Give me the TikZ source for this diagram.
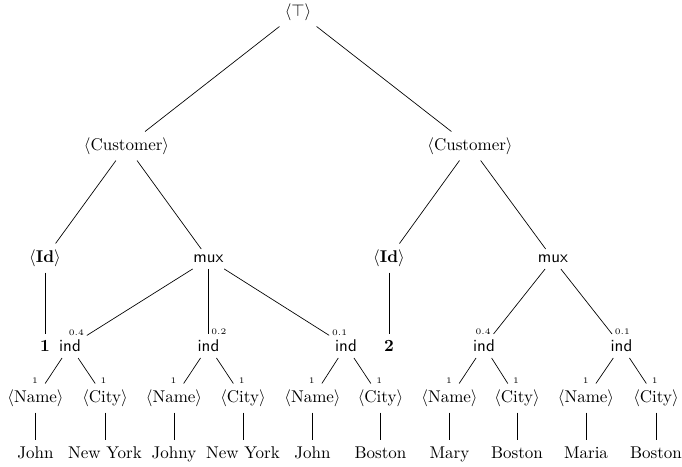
\documentclass[tikz,border=0pt]{standalone}
\begin{document}
\begin{tikzpicture}[x=0.588pt,y=-0.588pt,
  every node/.style={inner sep=3.33pt},
  sfn/.style={font=\sffamily},
  val/.style={anchor=base},
  lblL/.style={font=\tiny, anchor=base east, inner sep=1.5pt},
  lblR/.style={font=\tiny, anchor=base west, inner sep=1.5pt},
  clblL/.style={font=\tiny, anchor=base east, inner sep=4pt},
  clblR/.style={font=\tiny, anchor=base west, inner sep=3pt}]
\useasboundingbox (0,0) rectangle (682,467);
% level 1-3
\node (top) at (298,12) {$\langle\top\rangle$};
\node (c1) at (126.5,146) {$\langle$Customer$\rangle$};
\node (c2) at (470,146) {$\langle$Customer$\rangle$};
\node (id1) at (45,258) {$\langle$\textbf{Id}$\rangle$};
\node[sfn] (m1) at (208.5,259) {mux};
\node (id2) at (389,258) {$\langle$\textbf{Id}$\rangle$};
\node[sfn] (m2) at (553,259) {mux};
% level 4
\node (v1) at (45,346) {\textbf{1}};
\node[sfn] (i1) at (70,346) {ind};
\node[sfn] (i2) at (208.5,346) {ind};
\node[sfn] (i3) at (346,346) {ind};
\node (v2) at (389,346) {\textbf{2}};
\node[sfn] (i4) at (484,346) {ind};
\node[sfn] (i5) at (621.5,346) {ind};
% level 5
\node (n1) at (35.5,398) {$\langle$Name$\rangle$};
\node (t1) at (105,398) {$\langle$City$\rangle$};
\node (n2) at (174,398) {$\langle$Name$\rangle$};
\node (t2) at (243,398) {$\langle$City$\rangle$};
\node (n3) at (312.5,398) {$\langle$Name$\rangle$};
\node (t3) at (380.5,398) {$\langle$City$\rangle$};
\node (n4) at (449.5,398) {$\langle$Name$\rangle$};
\node (t4) at (517,398) {$\langle$City$\rangle$};
\node (n5) at (586,398) {$\langle$Name$\rangle$};
\node (t5) at (656,398) {$\langle$City$\rangle$};
% level 6
\node[val] (w1) at (35.5,458) {John};
\node[val] (w2) at (105,458) {New York};
\node[val] (w3) at (174,458) {Johny};
\node[val] (w4) at (243,458) {New York};
\node[val] (w5) at (312.5,458) {John};
\node[val] (w6) at (380.5,458) {Boston};
\node[val] (w7) at (449.5,458) {Mary};
\node[val] (w8) at (517,458) {Boston};
\node[val] (w9) at (586,458) {Maria};
\node[val] (w10) at (656,458) {Boston};
% edges
\draw (top) -- (c1);
\draw (top) -- (c2);
\draw (c1) -- (id1);
\draw (c1) -- (m1);
\draw (c2) -- (id2);
\draw (c2) -- (m2);
\draw (id1) -- (v1);
\draw (id2) -- (v2);
\draw (m1) -- (i1) node[pos=1, lblL] {0.4};
\draw (m1) -- (i2) node[pos=1, lblR] {0.2};
\draw (m1) -- (i3) node[pos=1, lblR] {0.1};
\draw (m2) -- (i4) node[pos=1, lblL] {0.4};
\draw (m2) -- (i5) node[pos=1, lblR] {0.1};
\foreach \i in {1,...,5}{
  \draw (i\i) -- (n\i) node[pos=1, clblL] {1};
  \draw (i\i) -- (t\i) node[pos=1, clblR] {1};
}
\draw (n1) -- (w1);
\draw (t1) -- (w2);
\draw (n2) -- (w3);
\draw (t2) -- (w4);
\draw (n3) -- (w5);
\draw (t3) -- (w6);
\draw (n4) -- (w7);
\draw (t4) -- (w8);
\draw (n5) -- (w9);
\draw (t5) -- (w10);
\end{tikzpicture}
\end{document}
